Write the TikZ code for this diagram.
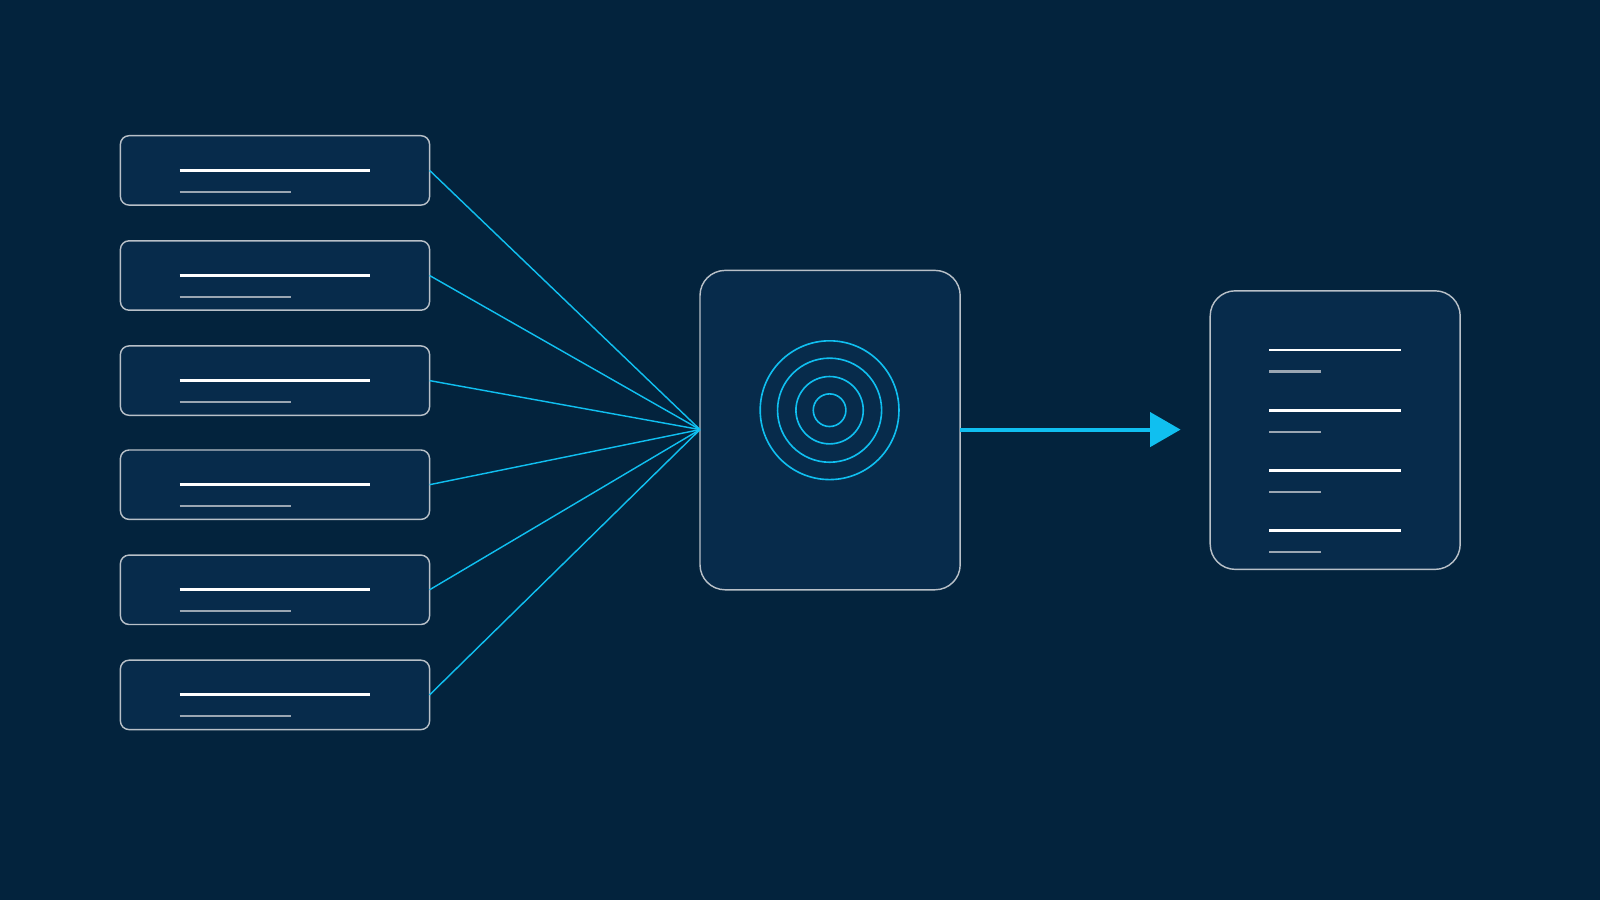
\documentclass[tikz,border=0pt]{standalone}
\usetikzlibrary{arrows.meta}
\definecolor{bg}{HTML}{03233D}
\definecolor{card}{HTML}{072B4B}
\definecolor{edge}{HTML}{B8C0C8}
\definecolor{cyanline}{HTML}{10BFF0}
\definecolor{dimline}{HTML}{9AA6B2}
\tikzset{
  card/.style={draw=edge, fill=card, line width=0.4pt, rounded corners=#1},
  card/.default=2.4pt,
  bar/.style={white, line width=0.8pt},
  subbar/.style={dimline, line width=0.6pt},
  link/.style={cyanline, line width=0.4pt},
}
\begin{document}
\begin{tikzpicture}[x=0.01cm, y=-0.01cm]
  \fill[bg] (0, 0) rectangle (1568, 882);
  \useasboundingbox (0, 0) rectangle (1568, 882);

  % hub
  \draw[card=7pt] (686, 265) rectangle (941, 578);
  \coordinate (hubin) at (686, 421);
  \coordinate (hubout) at (941, 421);
  \foreach \r in {68, 51, 33, 16} {
    \draw[cyanline, line width=0.45pt] (813, 402) circle (\r);
  }

  % sources
  \foreach \i/\y in {1/133, 2/236, 3/339, 4/441, 5/544, 6/647} {
    \draw[card] (118, \y) rectangle (421, \y + 68);
    \coordinate (src\i) at (421, \y + 34);
    \draw[bar] (176, \y + 34) -- (363, \y + 34);
    \draw[subbar] (176, \y + 55) -- (285, \y + 55);
    \draw[link] (src\i) -- (hubin);
  }

  % result
  \draw[card=7pt] (1186, 285) rectangle (1431, 558);
  \coordinate (resin) at (1157, 421);
  \foreach \y in {343, 402, 461, 520} {
    \draw[bar] (1244, \y) -- (1373, \y);
    \draw[subbar] (1244, \y + 21) -- (1295, \y + 21);
  }

  \draw[cyanline, line width=1.1pt, -{Triangle[length=8.5pt, width=9.5pt]}] (hubout) -- (resin);
\end{tikzpicture}
\end{document}
